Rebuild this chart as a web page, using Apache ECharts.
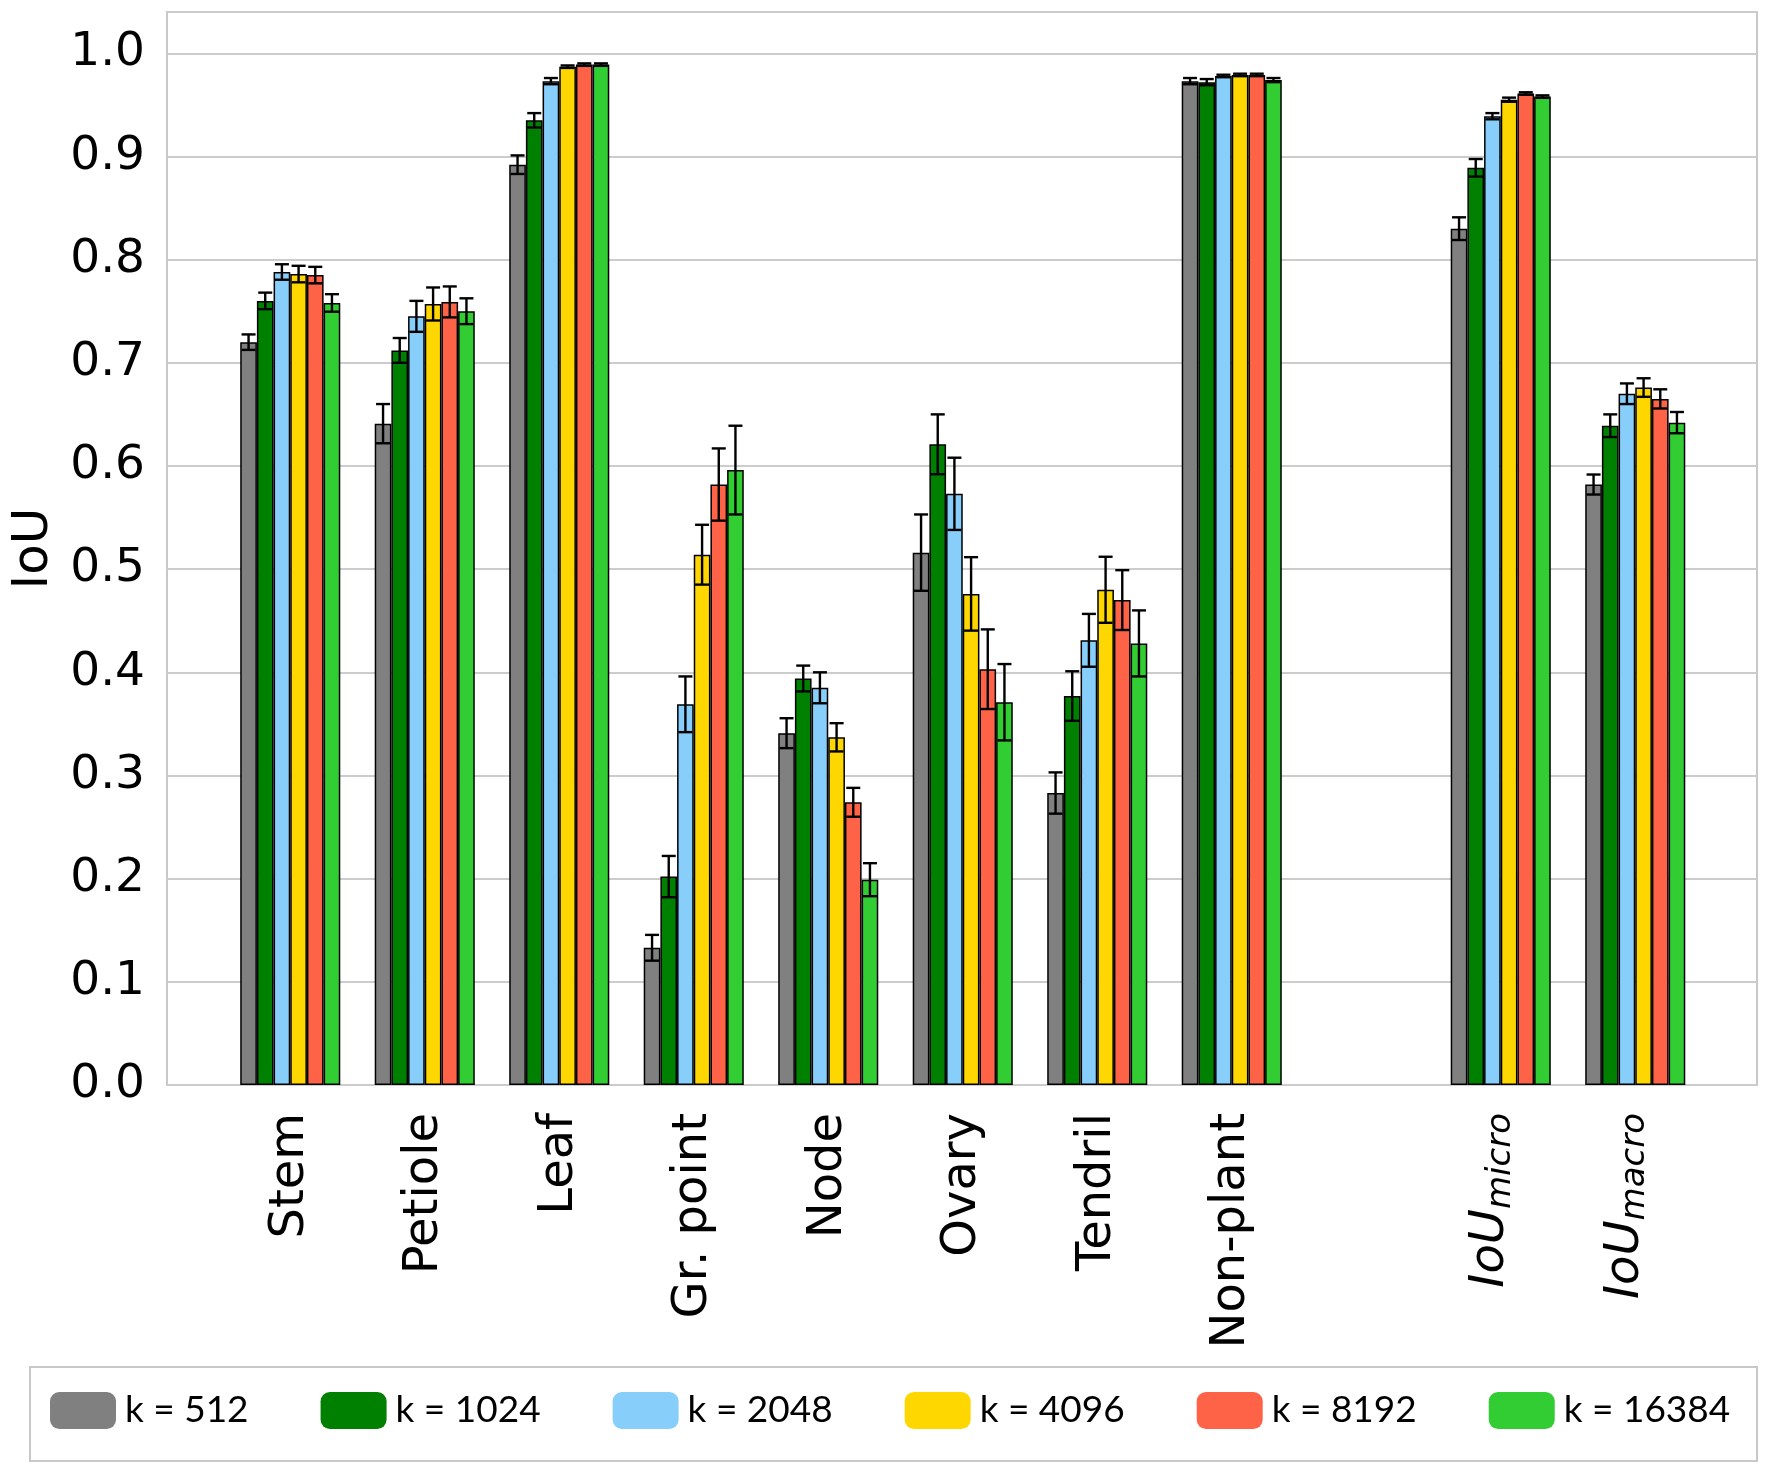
<!DOCTYPE html>
<html>
<head>
<meta charset="utf-8">
<script src="https://cdn.jsdelivr.net/npm/echarts@6/dist/echarts.min.js"></script>
<style>html,body{margin:0;padding:0;background:#fff}#c{width:1772px;height:1468px}</style>
</head>
<body>
<div id="c"></div>
<script>
const categories = ['Stem', 'Petiole', 'Leaf', 'Gr. point', 'Node', 'Ovary', 'Tendril', 'Non-plant', '', 'IoU_micro', 'IoU_macro'];
const seriesNames = ['k = 512', 'k = 1024', 'k = 2048', 'k = 4096', 'k = 8192', 'k = 16384'];
const colors = ['#808080', '#008000', '#87CEFA', '#FFD700', '#FF6347', '#32CD32'];
const k512   = [0.720, 0.641, 0.892, 0.133, 0.341, 0.516, 0.283, 0.973, null, 0.830, 0.582];
const k1024  = [0.760, 0.712, 0.935, 0.202, 0.394, 0.621, 0.377, 0.972, null, 0.889, 0.639];
const k2048  = [0.788, 0.745, 0.973, 0.369, 0.385, 0.573, 0.431, 0.978, null, 0.939, 0.670];
const k4096  = [0.786, 0.757, 0.987, 0.514, 0.337, 0.476, 0.480, 0.979, null, 0.955, 0.676];
const k8192  = [0.785, 0.759, 0.989, 0.582, 0.274, 0.403, 0.470, 0.979, null, 0.961, 0.665];
const k16384 = [0.758, 0.750, 0.989, 0.596, 0.199, 0.371, 0.428, 0.974, null, 0.958, 0.642];
const err512   = [0.0075, 0.019, 0.009, 0.0125, 0.0145, 0.037, 0.020, 0.003, null, 0.011, 0.0097];
const err1024  = [0.008, 0.012, 0.007, 0.020, 0.0125, 0.029, 0.024, 0.003, null, 0.0085, 0.011];
const err2048  = [0.0075, 0.015, 0.003, 0.027, 0.015, 0.035, 0.0256, 0.0012, null, 0.003, 0.010];
const err4096  = [0.008, 0.016, 0.0012, 0.029, 0.0137, 0.0356, 0.032, 0.0012, null, 0.002, 0.009];
const err8192  = [0.008, 0.015, 0.0012, 0.035, 0.014, 0.0386, 0.029, 0.0012, null, 0.0012, 0.0093];
const err16384 = [0.0085, 0.0125, 0.0012, 0.043, 0.016, 0.037, 0.032, 0.002, null, 0.0012, 0.0103];
const yTicks = [0.0, 0.1, 0.2, 0.3, 0.4, 0.5, 0.6, 0.7, 0.8, 0.9, 1.0];

const values = [k512, k1024, k2048, k4096, k8192, k16384];
const errors = [err512, err1024, err2048, err4096, err8192, err16384];
const BAR_FRAC = 0.124;
const FONT = "'DejaVu Sans', sans-serif";

const chart = echarts.init(document.getElementById('c'), null, {renderer: 'canvas'});

function errRender(sIdx) {
  return function (params, api) {
    const ci = api.value(0), v = api.value(1), e = api.value(2);
    const band = api.size([1, 0])[0];
    const bw = band * BAR_FRAC;
    const cx = api.coord([ci, 0])[0] + (sIdx - 2.5) * bw;
    const yTop = api.coord([ci, v + e])[1];
    const yBot = api.coord([ci, v - e])[1];
    const half = bw * 0.42;
    const st = {stroke: '#000', lineWidth: 2.4};
    return {type: 'group', children: [
      {type: 'line', shape: {x1: cx, y1: yTop, x2: cx, y2: yBot}, style: st},
      {type: 'line', shape: {x1: cx - half, y1: yTop, x2: cx + half, y2: yTop}, style: st},
      {type: 'line', shape: {x1: cx - half, y1: yBot, x2: cx + half, y2: yBot}, style: st}
    ]};
  };
}

const series = [];
seriesNames.forEach((n, s) => {
  series.push({
    name: n, type: 'bar', xAxisIndex: 0, yAxisIndex: 0,
    data: values[s].map(v => v === null ? '-' : v),
    barWidth: (BAR_FRAC * 100) + '%', barGap: '0%',
    itemStyle: {color: colors[s], borderColor: '#000', borderWidth: 1.5},
    emphasis: {disabled: true}, animation: false, z: 2
  });
});
seriesNames.forEach((n, s) => {
  const d = [];
  values[s].forEach((v, i) => { if (v !== null) d.push([i, v, errors[s][i]]); });
  series.push({
    name: 'err ' + n, type: 'custom', xAxisIndex: 0, yAxisIndex: 0,
    renderItem: errRender(s), data: d, z: 5, animation: false, silent: true
  });
});

const option = {
  backgroundColor: '#fff',
  animation: false,
  grid: [
    {left: 223, right: 69.5, top: 12, bottom: 383},
    {left: 167, right: 15, top: 12, bottom: 383, show: true, borderColor: '#c8c8c8', borderWidth: 2, backgroundColor: 'transparent'}
  ],
  xAxis: [
    {type: 'category', gridIndex: 0, data: categories,
      axisLine: {show: false}, axisTick: {show: false}, splitLine: {show: false},
      axisLabel: {
        interval: 0, rotate: 90, margin: 28, fontSize: 48, fontFamily: FONT, color: '#000',
        formatter: function (v) {
          if (v.indexOf('_') > 0) { const p = v.split('_'); return '{i|' + p[0] + '}{s|' + p[1] + '}'; }
          return v;
        },
        rich: {
          i: {fontSize: 48, fontStyle: 'italic', fontFamily: FONT, color: '#000', lineHeight: 48, verticalAlign: 'top'},
          s: {fontSize: 34, fontStyle: 'italic', fontFamily: FONT, color: '#000', lineHeight: 68, verticalAlign: 'middle'}
        }
      }
    },
    {type: 'value', gridIndex: 1, show: false, min: 0, max: 1}
  ],
  yAxis: [
    {type: 'value', gridIndex: 0, min: 0, max: 1.04, show: false},
    {type: 'value', gridIndex: 1, min: 0, max: 1.04, interval: 0.1,
      name: 'IoU', nameLocation: 'middle', nameGap: 108, nameRotate: 90,
      nameTextStyle: {fontSize: 50, fontFamily: FONT, color: '#000'},
      axisLine: {show: false}, axisTick: {show: false},
      splitLine: {show: true, lineStyle: {color: '#cccccc', width: 2}},
      axisLabel: {showMaxLabel: false, margin: 22, fontSize: 47, fontFamily: FONT, color: '#000',
        formatter: function (v) { return yTicks.some(t => Math.abs(t - v) < 1e-6) ? v.toFixed(1) : ''; }}
    }
  ],
  legend: {
    data: seriesNames, left: 50, top: 1392, padding: 0, width: 1715,
    itemWidth: 66, itemHeight: 37, itemGap: 72, icon: 'roundRect',
    itemStyle: {borderWidth: 0},
    textStyle: {fontSize: 37, fontFamily: "Lato, 'Liberation Sans', sans-serif", color: '#000', lineHeight: 37, padding: [0, 0, 0, 4]},
    selectedMode: false
  },
  graphic: [
    {type: 'rect', shape: {x: 30, y: 1367, width: 1727, height: 94}, style: {fill: 'none', stroke: '#c8c8c8', lineWidth: 2}, z: -1}
  ],
  series: series
};
chart.setOption(option);
</script>
</body>
</html>
